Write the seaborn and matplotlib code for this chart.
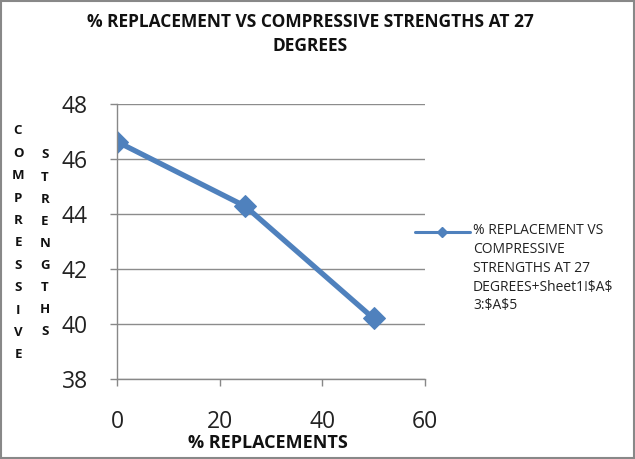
import matplotlib
matplotlib.use("Agg")
import matplotlib.pyplot as plt
import seaborn as sns
import pandas as pd
from matplotlib.patches import Rectangle
from matplotlib.lines import Line2D

replacement = [0, 25, 50]
strength = [46.63, 44.28, 40.2]
x_ticks = [0, 20, 40, 60]
y_ticks = [38, 40, 42, 44, 46, 48]
title = "% REPLACEMENT VS COMPRESSIVE STRENGTHS AT 27\nDEGREES"
legend_label = "% REPLACEMENT VS\nCOMPRESSIVE\nSTRENGTHS AT 27\nDEGREES+Sheet1!\\$A\\$\n3:\\$A\\$5"

sns.set_theme(style="white")
plt.rcParams['font.family'] = ['Open Sans', 'DejaVu Sans']

df = pd.DataFrame({"x": replacement, "y": strength})
color = "#4F81BD"

fig = plt.figure(figsize=(6.35, 4.59), dpi=100)
ax = fig.add_axes([117/635, 1-379/459, (425-117)/635, (379-104)/459])

sns.lineplot(data=df, x="x", y="y", ax=ax, color=color, linewidth=3.8,
             marker="D", markersize=11, markeredgecolor=color)

ax.set_xlim(0, 60)
ax.set_ylim(38, 48)
ax.set_xticks(x_ticks)
ax.set_yticks(y_ticks)
ax.tick_params(axis='both', labelsize=16.5, length=5, width=1,
               direction='out', left=True, bottom=True, color="#888888")
ax.tick_params(axis='y', pad=16)
ax.tick_params(axis='x', pad=17)
for lab in ax.get_xticklabels() + ax.get_yticklabels():
    lab.set_color("#222222")
ax.yaxis.grid(True, color="#8c8c8c", linewidth=1)
ax.xaxis.grid(False)
for s in ["top", "right"]:
    ax.spines[s].set_visible(False)
for s in ["left", "bottom"]:
    ax.spines[s].set_color("#888888")
    ax.spines[s].set_linewidth(1)
ax.set_xlabel("")
ax.set_ylabel("")

fig.text(310/635, 1-34/459, title, ha="center", va="center", fontsize=12.5,
         fontweight="bold", color="#111111", linespacing=1.45)
fig.text(268/635, 1-443/459, "% REPLACEMENTS", ha="center", va="center",
         fontsize=13, fontweight="bold", color="#111111")

for i, ch in enumerate("COMPRESSIVE"):
    fig.text(18/635, 1-(131 + i*22.4)/459, ch, ha="center", va="center",
             fontsize=9.5, fontweight="bold", color="#111111")
for i, ch in enumerate("STRENGTHS"):
    fig.text(45/635, 1-(155 + i*22.1)/459, ch, ha="center", va="center",
             fontsize=9.5, fontweight="bold", color="#111111")

# legend (manual)
fig.lines.append(Line2D([415/635, 470/635], [1-232/459, 1-232/459],
                        transform=fig.transFigure, color=color, linewidth=2.2))
fig.lines.append(Line2D([442/635], [1-232/459], transform=fig.transFigure,
                        color=color, marker="D", markersize=5.5, linestyle="none"))
fig.text(473/635, 1-223/459, legend_label, ha="left", va="top", fontsize=10,
         color="#222222", linespacing=1.35)

fig.patches.append(Rectangle((0.002, 0.002), 0.996, 0.996, transform=fig.transFigure,
                             fill=False, edgecolor="#888888", linewidth=1.5))

fig.savefig("out.png", dpi=100)
